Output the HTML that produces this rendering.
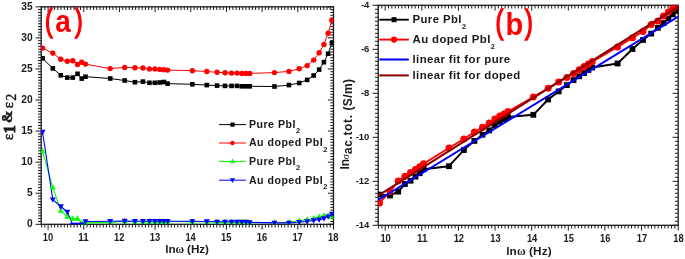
<!DOCTYPE html>
<html><head><meta charset="utf-8"><style>
html,body{margin:0;padding:0;background:#fff;width:685px;height:259px;overflow:hidden;}
svg{display:block;will-change:transform;}
</style></head><body>
<svg width="685" height="259" viewBox="0 0 685 259">
<rect width="685" height="259" fill="#fff"/>
<path d="M41.61 224.30v3.2M41.61 6.80v3.2M44.86 224.30v3.2M44.86 6.80v3.2M48.10 224.30v5.3M48.10 6.80v5.3M51.34 224.30v3.2M51.34 6.80v3.2M54.59 224.30v3.2M54.59 6.80v3.2M57.83 224.30v3.2M57.83 6.80v3.2M61.07 224.30v3.2M61.07 6.80v3.2M64.31 224.30v3.2M64.31 6.80v3.2M67.56 224.30v3.2M67.56 6.80v3.2M70.80 224.30v3.2M70.80 6.80v3.2M74.04 224.30v3.2M74.04 6.80v3.2M77.28 224.30v3.2M77.28 6.80v3.2M80.53 224.30v3.2M80.53 6.80v3.2M83.77 224.30v5.3M83.77 6.80v5.3M87.01 224.30v3.2M87.01 6.80v3.2M90.26 224.30v3.2M90.26 6.80v3.2M93.50 224.30v3.2M93.50 6.80v3.2M96.74 224.30v3.2M96.74 6.80v3.2M99.98 224.30v3.2M99.98 6.80v3.2M103.23 224.30v3.2M103.23 6.80v3.2M106.47 224.30v3.2M106.47 6.80v3.2M109.71 224.30v3.2M109.71 6.80v3.2M112.95 224.30v3.2M112.95 6.80v3.2M116.20 224.30v3.2M116.20 6.80v3.2M119.44 224.30v5.3M119.44 6.80v5.3M122.68 224.30v3.2M122.68 6.80v3.2M125.93 224.30v3.2M125.93 6.80v3.2M129.17 224.30v3.2M129.17 6.80v3.2M132.41 224.30v3.2M132.41 6.80v3.2M135.65 224.30v3.2M135.65 6.80v3.2M138.90 224.30v3.2M138.90 6.80v3.2M142.14 224.30v3.2M142.14 6.80v3.2M145.38 224.30v3.2M145.38 6.80v3.2M148.62 224.30v3.2M148.62 6.80v3.2M151.87 224.30v3.2M151.87 6.80v3.2M155.11 224.30v5.3M155.11 6.80v5.3M158.35 224.30v3.2M158.35 6.80v3.2M161.60 224.30v3.2M161.60 6.80v3.2M164.84 224.30v3.2M164.84 6.80v3.2M168.08 224.30v3.2M168.08 6.80v3.2M171.32 224.30v3.2M171.32 6.80v3.2M174.57 224.30v3.2M174.57 6.80v3.2M177.81 224.30v3.2M177.81 6.80v3.2M181.05 224.30v3.2M181.05 6.80v3.2M184.29 224.30v3.2M184.29 6.80v3.2M187.54 224.30v3.2M187.54 6.80v3.2M190.78 224.30v5.3M190.78 6.80v5.3M194.02 224.30v3.2M194.02 6.80v3.2M197.27 224.30v3.2M197.27 6.80v3.2M200.51 224.30v3.2M200.51 6.80v3.2M203.75 224.30v3.2M203.75 6.80v3.2M206.99 224.30v3.2M206.99 6.80v3.2M210.24 224.30v3.2M210.24 6.80v3.2M213.48 224.30v3.2M213.48 6.80v3.2M216.72 224.30v3.2M216.72 6.80v3.2M219.96 224.30v3.2M219.96 6.80v3.2M223.21 224.30v3.2M223.21 6.80v3.2M226.45 224.30v5.3M226.45 6.80v5.3M229.69 224.30v3.2M229.69 6.80v3.2M232.94 224.30v3.2M232.94 6.80v3.2M236.18 224.30v3.2M236.18 6.80v3.2M239.42 224.30v3.2M239.42 6.80v3.2M242.66 224.30v3.2M242.66 6.80v3.2M245.91 224.30v3.2M245.91 6.80v3.2M249.15 224.30v3.2M249.15 6.80v3.2M252.39 224.30v3.2M252.39 6.80v3.2M255.63 224.30v3.2M255.63 6.80v3.2M258.88 224.30v3.2M258.88 6.80v3.2M262.12 224.30v5.3M262.12 6.80v5.3M265.36 224.30v3.2M265.36 6.80v3.2M268.61 224.30v3.2M268.61 6.80v3.2M271.85 224.30v3.2M271.85 6.80v3.2M275.09 224.30v3.2M275.09 6.80v3.2M278.33 224.30v3.2M278.33 6.80v3.2M281.58 224.30v3.2M281.58 6.80v3.2M284.82 224.30v3.2M284.82 6.80v3.2M288.06 224.30v3.2M288.06 6.80v3.2M291.30 224.30v3.2M291.30 6.80v3.2M294.55 224.30v3.2M294.55 6.80v3.2M297.79 224.30v5.3M297.79 6.80v5.3M301.03 224.30v3.2M301.03 6.80v3.2M304.28 224.30v3.2M304.28 6.80v3.2M307.52 224.30v3.2M307.52 6.80v3.2M310.76 224.30v3.2M310.76 6.80v3.2M314.00 224.30v3.2M314.00 6.80v3.2M317.25 224.30v3.2M317.25 6.80v3.2M320.49 224.30v3.2M320.49 6.80v3.2M323.73 224.30v3.2M323.73 6.80v3.2M326.97 224.30v3.2M326.97 6.80v3.2M330.22 224.30v3.2M330.22 6.80v3.2M333.46 224.30v5.3M333.46 6.80v5.3" stroke="#1a1a1a" stroke-width="1" fill="none"/>
<path d="M41.20 224.30h-5.6M333.50 224.30h-5.6M41.20 193.23h-5.6M333.50 193.23h-5.6M41.20 162.16h-5.6M333.50 162.16h-5.6M41.20 131.09h-5.6M333.50 131.09h-5.6M41.20 100.02h-5.6M333.50 100.02h-5.6M41.20 68.95h-5.6M333.50 68.95h-5.6M41.20 37.88h-5.6M333.50 37.88h-5.6M41.20 6.81h-5.6M333.50 6.81h-5.6M41.20 221.48h-3.2M333.50 221.48h-3.2M41.20 218.65h-3.2M333.50 218.65h-3.2M41.20 215.83h-3.2M333.50 215.83h-3.2M41.20 213.00h-3.2M333.50 213.00h-3.2M41.20 210.18h-3.2M333.50 210.18h-3.2M41.20 207.35h-3.2M333.50 207.35h-3.2M41.20 204.53h-3.2M333.50 204.53h-3.2M41.20 201.70h-3.2M333.50 201.70h-3.2M41.20 198.88h-3.2M333.50 198.88h-3.2M41.20 196.05h-3.2M333.50 196.05h-3.2M41.20 190.41h-3.2M333.50 190.41h-3.2M41.20 187.58h-3.2M333.50 187.58h-3.2M41.20 184.76h-3.2M333.50 184.76h-3.2M41.20 181.93h-3.2M333.50 181.93h-3.2M41.20 179.11h-3.2M333.50 179.11h-3.2M41.20 176.28h-3.2M333.50 176.28h-3.2M41.20 173.46h-3.2M333.50 173.46h-3.2M41.20 170.63h-3.2M333.50 170.63h-3.2M41.20 167.81h-3.2M333.50 167.81h-3.2M41.20 164.98h-3.2M333.50 164.98h-3.2M41.20 159.34h-3.2M333.50 159.34h-3.2M41.20 156.51h-3.2M333.50 156.51h-3.2M41.20 153.69h-3.2M333.50 153.69h-3.2M41.20 150.86h-3.2M333.50 150.86h-3.2M41.20 148.04h-3.2M333.50 148.04h-3.2M41.20 145.21h-3.2M333.50 145.21h-3.2M41.20 142.39h-3.2M333.50 142.39h-3.2M41.20 139.56h-3.2M333.50 139.56h-3.2M41.20 136.74h-3.2M333.50 136.74h-3.2M41.20 133.91h-3.2M333.50 133.91h-3.2M41.20 128.27h-3.2M333.50 128.27h-3.2M41.20 125.44h-3.2M333.50 125.44h-3.2M41.20 122.62h-3.2M333.50 122.62h-3.2M41.20 119.79h-3.2M333.50 119.79h-3.2M41.20 116.97h-3.2M333.50 116.97h-3.2M41.20 114.14h-3.2M333.50 114.14h-3.2M41.20 111.32h-3.2M333.50 111.32h-3.2M41.20 108.49h-3.2M333.50 108.49h-3.2M41.20 105.67h-3.2M333.50 105.67h-3.2M41.20 102.84h-3.2M333.50 102.84h-3.2M41.20 97.20h-3.2M333.50 97.20h-3.2M41.20 94.37h-3.2M333.50 94.37h-3.2M41.20 91.55h-3.2M333.50 91.55h-3.2M41.20 88.72h-3.2M333.50 88.72h-3.2M41.20 85.90h-3.2M333.50 85.90h-3.2M41.20 83.07h-3.2M333.50 83.07h-3.2M41.20 80.25h-3.2M333.50 80.25h-3.2M41.20 77.42h-3.2M333.50 77.42h-3.2M41.20 74.60h-3.2M333.50 74.60h-3.2M41.20 71.77h-3.2M333.50 71.77h-3.2M41.20 66.13h-3.2M333.50 66.13h-3.2M41.20 63.30h-3.2M333.50 63.30h-3.2M41.20 60.48h-3.2M333.50 60.48h-3.2M41.20 57.65h-3.2M333.50 57.65h-3.2M41.20 54.83h-3.2M333.50 54.83h-3.2M41.20 52.00h-3.2M333.50 52.00h-3.2M41.20 49.18h-3.2M333.50 49.18h-3.2M41.20 46.35h-3.2M333.50 46.35h-3.2M41.20 43.53h-3.2M333.50 43.53h-3.2M41.20 40.70h-3.2M333.50 40.70h-3.2M41.20 35.06h-3.2M333.50 35.06h-3.2M41.20 32.23h-3.2M333.50 32.23h-3.2M41.20 29.41h-3.2M333.50 29.41h-3.2M41.20 26.58h-3.2M333.50 26.58h-3.2M41.20 23.76h-3.2M333.50 23.76h-3.2M41.20 20.93h-3.2M333.50 20.93h-3.2M41.20 18.11h-3.2M333.50 18.11h-3.2M41.20 15.28h-3.2M333.50 15.28h-3.2M41.20 12.46h-3.2M333.50 12.46h-3.2M41.20 9.63h-3.2M333.50 9.63h-3.2" stroke="#1a1a1a" stroke-width="1" fill="none"/>
<rect x="41.2" y="6.8" width="292.30" height="217.50" fill="none" stroke="#1a1a1a" stroke-width="1.3"/>
<path d="M378.54 225.30v3.2M378.54 5.30v3.2M381.87 225.30v3.2M381.87 5.30v3.2M385.20 225.30v5.3M385.20 5.30v5.3M388.53 225.30v3.2M388.53 5.30v3.2M391.86 225.30v3.2M391.86 5.30v3.2M395.19 225.30v3.2M395.19 5.30v3.2M398.52 225.30v3.2M398.52 5.30v3.2M401.85 225.30v3.2M401.85 5.30v3.2M405.17 225.30v3.2M405.17 5.30v3.2M408.50 225.30v3.2M408.50 5.30v3.2M411.83 225.30v3.2M411.83 5.30v3.2M415.16 225.30v3.2M415.16 5.30v3.2M418.49 225.30v3.2M418.49 5.30v3.2M421.82 225.30v5.3M421.82 5.30v5.3M425.15 225.30v3.2M425.15 5.30v3.2M428.48 225.30v3.2M428.48 5.30v3.2M431.81 225.30v3.2M431.81 5.30v3.2M435.14 225.30v3.2M435.14 5.30v3.2M438.47 225.30v3.2M438.47 5.30v3.2M441.79 225.30v3.2M441.79 5.30v3.2M445.12 225.30v3.2M445.12 5.30v3.2M448.45 225.30v3.2M448.45 5.30v3.2M451.78 225.30v3.2M451.78 5.30v3.2M455.11 225.30v3.2M455.11 5.30v3.2M458.44 225.30v5.3M458.44 5.30v5.3M461.77 225.30v3.2M461.77 5.30v3.2M465.10 225.30v3.2M465.10 5.30v3.2M468.43 225.30v3.2M468.43 5.30v3.2M471.76 225.30v3.2M471.76 5.30v3.2M475.09 225.30v3.2M475.09 5.30v3.2M478.41 225.30v3.2M478.41 5.30v3.2M481.74 225.30v3.2M481.74 5.30v3.2M485.07 225.30v3.2M485.07 5.30v3.2M488.40 225.30v3.2M488.40 5.30v3.2M491.73 225.30v3.2M491.73 5.30v3.2M495.06 225.30v5.3M495.06 5.30v5.3M498.39 225.30v3.2M498.39 5.30v3.2M501.72 225.30v3.2M501.72 5.30v3.2M505.05 225.30v3.2M505.05 5.30v3.2M508.38 225.30v3.2M508.38 5.30v3.2M511.71 225.30v3.2M511.71 5.30v3.2M515.03 225.30v3.2M515.03 5.30v3.2M518.36 225.30v3.2M518.36 5.30v3.2M521.69 225.30v3.2M521.69 5.30v3.2M525.02 225.30v3.2M525.02 5.30v3.2M528.35 225.30v3.2M528.35 5.30v3.2M531.68 225.30v5.3M531.68 5.30v5.3M535.01 225.30v3.2M535.01 5.30v3.2M538.34 225.30v3.2M538.34 5.30v3.2M541.67 225.30v3.2M541.67 5.30v3.2M545.00 225.30v3.2M545.00 5.30v3.2M548.33 225.30v3.2M548.33 5.30v3.2M551.65 225.30v3.2M551.65 5.30v3.2M554.98 225.30v3.2M554.98 5.30v3.2M558.31 225.30v3.2M558.31 5.30v3.2M561.64 225.30v3.2M561.64 5.30v3.2M564.97 225.30v3.2M564.97 5.30v3.2M568.30 225.30v5.3M568.30 5.30v5.3M571.63 225.30v3.2M571.63 5.30v3.2M574.96 225.30v3.2M574.96 5.30v3.2M578.29 225.30v3.2M578.29 5.30v3.2M581.62 225.30v3.2M581.62 5.30v3.2M584.95 225.30v3.2M584.95 5.30v3.2M588.27 225.30v3.2M588.27 5.30v3.2M591.60 225.30v3.2M591.60 5.30v3.2M594.93 225.30v3.2M594.93 5.30v3.2M598.26 225.30v3.2M598.26 5.30v3.2M601.59 225.30v3.2M601.59 5.30v3.2M604.92 225.30v5.3M604.92 5.30v5.3M608.25 225.30v3.2M608.25 5.30v3.2M611.58 225.30v3.2M611.58 5.30v3.2M614.91 225.30v3.2M614.91 5.30v3.2M618.24 225.30v3.2M618.24 5.30v3.2M621.57 225.30v3.2M621.57 5.30v3.2M624.89 225.30v3.2M624.89 5.30v3.2M628.22 225.30v3.2M628.22 5.30v3.2M631.55 225.30v3.2M631.55 5.30v3.2M634.88 225.30v3.2M634.88 5.30v3.2M638.21 225.30v3.2M638.21 5.30v3.2M641.54 225.30v5.3M641.54 5.30v5.3M644.87 225.30v3.2M644.87 5.30v3.2M648.20 225.30v3.2M648.20 5.30v3.2M651.53 225.30v3.2M651.53 5.30v3.2M654.86 225.30v3.2M654.86 5.30v3.2M658.19 225.30v3.2M658.19 5.30v3.2M661.51 225.30v3.2M661.51 5.30v3.2M664.84 225.30v3.2M664.84 5.30v3.2M668.17 225.30v3.2M668.17 5.30v3.2M671.50 225.30v3.2M671.50 5.30v3.2M674.83 225.30v3.2M674.83 5.30v3.2M678.16 225.30v5.3M678.16 5.30v5.3" stroke="#1a1a1a" stroke-width="1" fill="none"/>
<path d="M378.20 5.30h-5.6M678.20 5.30h-5.6M378.20 49.30h-5.6M678.20 49.30h-5.6M378.20 93.30h-5.6M678.20 93.30h-5.6M378.20 137.30h-5.6M678.20 137.30h-5.6M378.20 181.30h-5.6M678.20 181.30h-5.6M378.20 225.30h-5.6M678.20 225.30h-5.6M378.20 221.30h-3.2M678.20 221.30h-3.2M378.20 217.30h-3.2M678.20 217.30h-3.2M378.20 213.30h-3.2M678.20 213.30h-3.2M378.20 209.30h-3.2M678.20 209.30h-3.2M378.20 205.30h-3.2M678.20 205.30h-3.2M378.20 201.30h-3.2M678.20 201.30h-3.2M378.20 197.30h-3.2M678.20 197.30h-3.2M378.20 193.30h-3.2M678.20 193.30h-3.2M378.20 189.30h-3.2M678.20 189.30h-3.2M378.20 185.30h-3.2M678.20 185.30h-3.2M378.20 177.30h-3.2M678.20 177.30h-3.2M378.20 173.30h-3.2M678.20 173.30h-3.2M378.20 169.30h-3.2M678.20 169.30h-3.2M378.20 165.30h-3.2M678.20 165.30h-3.2M378.20 161.30h-3.2M678.20 161.30h-3.2M378.20 157.30h-3.2M678.20 157.30h-3.2M378.20 153.30h-3.2M678.20 153.30h-3.2M378.20 149.30h-3.2M678.20 149.30h-3.2M378.20 145.30h-3.2M678.20 145.30h-3.2M378.20 141.30h-3.2M678.20 141.30h-3.2M378.20 133.30h-3.2M678.20 133.30h-3.2M378.20 129.30h-3.2M678.20 129.30h-3.2M378.20 125.30h-3.2M678.20 125.30h-3.2M378.20 121.30h-3.2M678.20 121.30h-3.2M378.20 117.30h-3.2M678.20 117.30h-3.2M378.20 113.30h-3.2M678.20 113.30h-3.2M378.20 109.30h-3.2M678.20 109.30h-3.2M378.20 105.30h-3.2M678.20 105.30h-3.2M378.20 101.30h-3.2M678.20 101.30h-3.2M378.20 97.30h-3.2M678.20 97.30h-3.2M378.20 89.30h-3.2M678.20 89.30h-3.2M378.20 85.30h-3.2M678.20 85.30h-3.2M378.20 81.30h-3.2M678.20 81.30h-3.2M378.20 77.30h-3.2M678.20 77.30h-3.2M378.20 73.30h-3.2M678.20 73.30h-3.2M378.20 69.30h-3.2M678.20 69.30h-3.2M378.20 65.30h-3.2M678.20 65.30h-3.2M378.20 61.30h-3.2M678.20 61.30h-3.2M378.20 57.30h-3.2M678.20 57.30h-3.2M378.20 53.30h-3.2M678.20 53.30h-3.2M378.20 45.30h-3.2M678.20 45.30h-3.2M378.20 41.30h-3.2M678.20 41.30h-3.2M378.20 37.30h-3.2M678.20 37.30h-3.2M378.20 33.30h-3.2M678.20 33.30h-3.2M378.20 29.30h-3.2M678.20 29.30h-3.2M378.20 25.30h-3.2M678.20 25.30h-3.2M378.20 21.30h-3.2M678.20 21.30h-3.2M378.20 17.30h-3.2M678.20 17.30h-3.2M378.20 13.30h-3.2M678.20 13.30h-3.2M378.20 9.30h-3.2M678.20 9.30h-3.2" stroke="#1a1a1a" stroke-width="1" fill="none"/>
<rect x="378.2" y="5.3" width="300.00" height="220.00" fill="none" stroke="#1a1a1a" stroke-width="1.3"/>
<text x="47.90" y="240.6" text-anchor="middle" font-family="Liberation Sans, sans-serif" font-weight="bold" font-size="10.2" fill="#1a1a1a" textLength="10.4" lengthAdjust="spacingAndGlyphs">10</text>
<text x="385.60" y="241.7" text-anchor="middle" font-family="Liberation Sans, sans-serif" font-weight="bold" font-size="10.0" fill="#1a1a1a" textLength="10.4" lengthAdjust="spacingAndGlyphs">10</text>
<text x="83.57" y="240.6" text-anchor="middle" font-family="Liberation Sans, sans-serif" font-weight="bold" font-size="10.2" fill="#1a1a1a" textLength="10.4" lengthAdjust="spacingAndGlyphs">11</text>
<text x="422.22" y="241.7" text-anchor="middle" font-family="Liberation Sans, sans-serif" font-weight="bold" font-size="10.0" fill="#1a1a1a" textLength="10.4" lengthAdjust="spacingAndGlyphs">11</text>
<text x="119.24" y="240.6" text-anchor="middle" font-family="Liberation Sans, sans-serif" font-weight="bold" font-size="10.2" fill="#1a1a1a" textLength="10.4" lengthAdjust="spacingAndGlyphs">12</text>
<text x="458.84" y="241.7" text-anchor="middle" font-family="Liberation Sans, sans-serif" font-weight="bold" font-size="10.0" fill="#1a1a1a" textLength="10.4" lengthAdjust="spacingAndGlyphs">12</text>
<text x="154.91" y="240.6" text-anchor="middle" font-family="Liberation Sans, sans-serif" font-weight="bold" font-size="10.2" fill="#1a1a1a" textLength="10.4" lengthAdjust="spacingAndGlyphs">13</text>
<text x="495.46" y="241.7" text-anchor="middle" font-family="Liberation Sans, sans-serif" font-weight="bold" font-size="10.0" fill="#1a1a1a" textLength="10.4" lengthAdjust="spacingAndGlyphs">13</text>
<text x="190.58" y="240.6" text-anchor="middle" font-family="Liberation Sans, sans-serif" font-weight="bold" font-size="10.2" fill="#1a1a1a" textLength="10.4" lengthAdjust="spacingAndGlyphs">14</text>
<text x="532.08" y="241.7" text-anchor="middle" font-family="Liberation Sans, sans-serif" font-weight="bold" font-size="10.0" fill="#1a1a1a" textLength="10.4" lengthAdjust="spacingAndGlyphs">14</text>
<text x="226.25" y="240.6" text-anchor="middle" font-family="Liberation Sans, sans-serif" font-weight="bold" font-size="10.2" fill="#1a1a1a" textLength="10.4" lengthAdjust="spacingAndGlyphs">15</text>
<text x="568.70" y="241.7" text-anchor="middle" font-family="Liberation Sans, sans-serif" font-weight="bold" font-size="10.0" fill="#1a1a1a" textLength="10.4" lengthAdjust="spacingAndGlyphs">15</text>
<text x="261.92" y="240.6" text-anchor="middle" font-family="Liberation Sans, sans-serif" font-weight="bold" font-size="10.2" fill="#1a1a1a" textLength="10.4" lengthAdjust="spacingAndGlyphs">16</text>
<text x="605.32" y="241.7" text-anchor="middle" font-family="Liberation Sans, sans-serif" font-weight="bold" font-size="10.0" fill="#1a1a1a" textLength="10.4" lengthAdjust="spacingAndGlyphs">16</text>
<text x="297.59" y="240.6" text-anchor="middle" font-family="Liberation Sans, sans-serif" font-weight="bold" font-size="10.2" fill="#1a1a1a" textLength="10.4" lengthAdjust="spacingAndGlyphs">17</text>
<text x="641.94" y="241.7" text-anchor="middle" font-family="Liberation Sans, sans-serif" font-weight="bold" font-size="10.0" fill="#1a1a1a" textLength="10.4" lengthAdjust="spacingAndGlyphs">17</text>
<text x="333.26" y="240.6" text-anchor="middle" font-family="Liberation Sans, sans-serif" font-weight="bold" font-size="10.2" fill="#1a1a1a" textLength="10.4" lengthAdjust="spacingAndGlyphs">18</text>
<text x="678.56" y="241.7" text-anchor="middle" font-family="Liberation Sans, sans-serif" font-weight="bold" font-size="10.0" fill="#1a1a1a" textLength="10.4" lengthAdjust="spacingAndGlyphs">18</text>
<text x="32.6" y="227.30" text-anchor="end" font-family="Liberation Sans, sans-serif" font-weight="bold" font-size="10.2" fill="#1a1a1a">0</text>
<text x="32.6" y="196.23" text-anchor="end" font-family="Liberation Sans, sans-serif" font-weight="bold" font-size="10.2" fill="#1a1a1a">5</text>
<text x="32.6" y="165.16" text-anchor="end" font-family="Liberation Sans, sans-serif" font-weight="bold" font-size="10.2" fill="#1a1a1a">10</text>
<text x="32.6" y="134.09" text-anchor="end" font-family="Liberation Sans, sans-serif" font-weight="bold" font-size="10.2" fill="#1a1a1a">15</text>
<text x="32.6" y="103.02" text-anchor="end" font-family="Liberation Sans, sans-serif" font-weight="bold" font-size="10.2" fill="#1a1a1a">20</text>
<text x="32.6" y="71.95" text-anchor="end" font-family="Liberation Sans, sans-serif" font-weight="bold" font-size="10.2" fill="#1a1a1a">25</text>
<text x="32.6" y="40.88" text-anchor="end" font-family="Liberation Sans, sans-serif" font-weight="bold" font-size="10.2" fill="#1a1a1a">30</text>
<text x="32.6" y="9.81" text-anchor="end" font-family="Liberation Sans, sans-serif" font-weight="bold" font-size="10.2" fill="#1a1a1a">35</text>
<text x="369.4" y="8.20" text-anchor="end" font-family="Liberation Sans, sans-serif" font-weight="bold" font-size="9.5" fill="#1a1a1a">-4</text>
<text x="369.4" y="52.20" text-anchor="end" font-family="Liberation Sans, sans-serif" font-weight="bold" font-size="9.5" fill="#1a1a1a">-6</text>
<text x="369.4" y="96.20" text-anchor="end" font-family="Liberation Sans, sans-serif" font-weight="bold" font-size="9.5" fill="#1a1a1a">-8</text>
<text x="369.4" y="140.20" text-anchor="end" font-family="Liberation Sans, sans-serif" font-weight="bold" font-size="9.5" fill="#1a1a1a">-10</text>
<text x="369.4" y="184.20" text-anchor="end" font-family="Liberation Sans, sans-serif" font-weight="bold" font-size="9.5" fill="#1a1a1a">-12</text>
<text x="369.4" y="228.20" text-anchor="end" font-family="Liberation Sans, sans-serif" font-weight="bold" font-size="9.5" fill="#1a1a1a">-14</text>
<text x="165.3" y="253.3" font-family="Liberation Sans, sans-serif" font-weight="bold" font-size="11.7" fill="#1a1a1a" textLength="43.6" lengthAdjust="spacing">ln<tspan font-family="Liberation Serif, serif" font-weight="bold">ω</tspan> (Hz)</text>
<text x="506.2" y="254.8" font-family="Liberation Sans, sans-serif" font-weight="bold" font-size="11.8" fill="#1a1a1a" textLength="45.5" lengthAdjust="spacing">ln<tspan font-family="Liberation Serif, serif" font-weight="bold">ω</tspan> (Hz)</text>
<g transform="rotate(-90)" fill="#1a1a1a">
<text x="-140.0" y="12.6" font-family="Liberation Serif, serif" font-size="14.5" stroke="#1a1a1a" stroke-width="0.5">ε</text>
<text x="-133.2" y="15.3" font-family="Liberation Serif, serif" font-weight="bold" font-size="16" stroke="#1a1a1a" stroke-width="0.9">1</text>
<text x="-123.0" y="11.9" font-family="Liberation Serif, serif" font-weight="bold" font-size="15" stroke="#1a1a1a" stroke-width="0.5">&amp;</text>
<text x="-108.2" y="13.0" font-family="Liberation Serif, serif" font-size="14.5" stroke="#1a1a1a" stroke-width="0.5">ε</text>
<text x="-100.8" y="15.5" font-family="Liberation Serif, serif" font-size="14" stroke="#1a1a1a" stroke-width="0.4">2</text>
</g>
<g transform="rotate(-90)" fill="#1a1a1a">
<text x="-169.6" y="349.2" font-family="Liberation Sans, sans-serif" font-weight="bold" font-size="12">ln</text>
<text x="-159.2" y="349.2" font-family="Liberation Serif, serif" font-size="9.5">σ</text>
<text x="-154.0" y="352.4" font-family="Liberation Sans, sans-serif" font-weight="bold" font-size="12" textLength="39" lengthAdjust="spacing">ac.tot.</text>
<text x="-110.6" y="352.4" font-family="Liberation Sans, sans-serif" font-weight="bold" font-size="12" textLength="31.6" lengthAdjust="spacing">(S/m)</text>
</g>
<g font-family="Liberation Sans, sans-serif" fill="#ff0000">
<text transform="translate(44.9,31) scale(0.72,1)" font-size="32" stroke="#ff0000" stroke-width="1.5">(</text>
<text transform="translate(55.2,31.8) scale(0.9,1)" font-size="31" font-weight="bold">a</text>
<text transform="translate(75.0,31) scale(0.72,1)" font-size="32" stroke="#ff0000" stroke-width="1.5">)</text>
<text transform="translate(495.5,33.2) scale(0.72,1)" font-size="32.5" stroke="#ff0000" stroke-width="1.5">(</text>
<text transform="translate(505.6,35.3) scale(0.92,1)" font-size="31.5" font-weight="bold">b</text>
<text transform="translate(525.0,33.2) scale(0.72,1)" font-size="32.5" stroke="#ff0000" stroke-width="1.5">)</text>
</g>
<g clip-path="url(#cl)">
<polyline points="42.54,58.30 52.81,68.40 60.77,75.30 67.27,77.60 72.77,77.60 77.53,73.80 81.73,78.60 85.49,76.70 110.21,78.50 124.68,80.50 134.94,82.20 142.90,81.60 149.40,82.80 154.90,82.80 159.66,82.50 163.86,82.00 167.62,83.60 192.35,84.30 206.81,85.10 217.07,85.60 225.03,85.90 231.54,85.90 237.03,85.90 241.80,86.30 246.00,86.30 249.76,86.30 274.48,86.50 288.94,85.10 299.21,83.00 307.16,79.90 313.67,75.50 319.17,69.60 323.93,62.20 328.13,53.70 331.89,43.00" fill="none" stroke="#000" stroke-width="1.0" stroke-linejoin="round"/>
<polyline points="42.54,48.10 52.81,53.10 60.77,59.30 67.27,61.20 72.77,60.70 77.53,64.50 81.73,62.20 85.49,64.10 110.21,68.60 124.68,67.40 134.94,67.80 142.90,68.00 149.40,68.90 154.90,68.90 159.66,69.40 163.86,69.70 167.62,70.10 192.35,70.70 206.81,71.50 217.07,72.30 225.03,72.70 231.54,73.10 237.03,73.10 241.80,73.40 246.00,73.40 249.76,73.40 274.48,72.60 288.94,71.40 299.21,68.80 307.16,65.60 313.67,60.10 319.17,52.70 323.93,44.40 328.13,33.30 331.89,20.30" fill="none" stroke="#ff0000" stroke-width="1.0" stroke-linejoin="round"/>
<polyline points="42.54,151.10 52.81,187.40 60.77,210.70 67.27,216.50 72.77,218.50 77.53,218.50 81.73,222.80 85.49,222.90 110.21,222.40 124.68,221.30 134.94,221.50 142.90,221.50 149.40,221.50 154.90,221.50 159.66,221.50 163.86,221.50 167.62,221.50 192.35,221.60 206.81,221.80 217.07,222.10 225.03,222.10 231.54,222.10 237.03,222.30 241.80,222.30 246.00,222.30 249.76,222.60 274.48,222.50 288.94,222.50 299.21,220.80 307.16,219.60 313.67,218.30 319.17,216.80 323.93,215.60 328.13,215.50 331.89,216.50" fill="none" stroke="#00ff00" stroke-width="1.1" stroke-linejoin="round"/>
<polyline points="42.54,132.00 52.81,199.60 60.77,206.50 67.27,212.00 72.77,224.80 77.53,224.80 81.73,224.60 85.49,221.50 110.21,221.20 124.68,221.00 134.94,221.20 142.90,221.20 149.40,221.20 154.90,221.20 159.66,221.20 163.86,221.20 167.62,221.20 192.35,221.30 206.81,221.50 217.07,221.80 225.03,221.80 231.54,221.80 237.03,222.00 241.80,222.00 246.00,222.00 249.76,222.30 274.48,222.90 288.94,222.90 299.21,222.20 307.16,221.40 313.67,220.40 319.17,219.60 323.93,218.40 328.13,216.60 331.89,214.00" fill="none" stroke="#0000ff" stroke-width="1.1" stroke-linejoin="round"/>
<rect x="40.24" y="56.00" width="4.6" height="4.6" fill="#000"/>
<rect x="50.51" y="66.10" width="4.6" height="4.6" fill="#000"/>
<rect x="58.47" y="73.00" width="4.6" height="4.6" fill="#000"/>
<rect x="64.97" y="75.30" width="4.6" height="4.6" fill="#000"/>
<rect x="70.47" y="75.30" width="4.6" height="4.6" fill="#000"/>
<rect x="75.23" y="71.50" width="4.6" height="4.6" fill="#000"/>
<rect x="79.43" y="76.30" width="4.6" height="4.6" fill="#000"/>
<rect x="83.19" y="74.40" width="4.6" height="4.6" fill="#000"/>
<rect x="107.91" y="76.20" width="4.6" height="4.6" fill="#000"/>
<rect x="122.38" y="78.20" width="4.6" height="4.6" fill="#000"/>
<rect x="132.64" y="79.90" width="4.6" height="4.6" fill="#000"/>
<rect x="140.60" y="79.30" width="4.6" height="4.6" fill="#000"/>
<rect x="147.10" y="80.50" width="4.6" height="4.6" fill="#000"/>
<rect x="152.60" y="80.50" width="4.6" height="4.6" fill="#000"/>
<rect x="157.36" y="80.20" width="4.6" height="4.6" fill="#000"/>
<rect x="161.56" y="79.70" width="4.6" height="4.6" fill="#000"/>
<rect x="165.32" y="81.30" width="4.6" height="4.6" fill="#000"/>
<rect x="190.05" y="82.00" width="4.6" height="4.6" fill="#000"/>
<rect x="204.51" y="82.80" width="4.6" height="4.6" fill="#000"/>
<rect x="214.77" y="83.30" width="4.6" height="4.6" fill="#000"/>
<rect x="222.73" y="83.60" width="4.6" height="4.6" fill="#000"/>
<rect x="229.24" y="83.60" width="4.6" height="4.6" fill="#000"/>
<rect x="234.73" y="83.60" width="4.6" height="4.6" fill="#000"/>
<rect x="239.50" y="84.00" width="4.6" height="4.6" fill="#000"/>
<rect x="243.70" y="84.00" width="4.6" height="4.6" fill="#000"/>
<rect x="247.46" y="84.00" width="4.6" height="4.6" fill="#000"/>
<rect x="272.18" y="84.20" width="4.6" height="4.6" fill="#000"/>
<rect x="286.64" y="82.80" width="4.6" height="4.6" fill="#000"/>
<rect x="296.91" y="80.70" width="4.6" height="4.6" fill="#000"/>
<rect x="304.86" y="77.60" width="4.6" height="4.6" fill="#000"/>
<rect x="311.37" y="73.20" width="4.6" height="4.6" fill="#000"/>
<rect x="316.87" y="67.30" width="4.6" height="4.6" fill="#000"/>
<rect x="321.63" y="59.90" width="4.6" height="4.6" fill="#000"/>
<rect x="325.83" y="51.40" width="4.6" height="4.6" fill="#000"/>
<rect x="329.59" y="40.70" width="4.6" height="4.6" fill="#000"/>
<circle cx="42.54" cy="48.10" r="2.7" fill="#ff0000"/>
<circle cx="52.81" cy="53.10" r="2.7" fill="#ff0000"/>
<circle cx="60.77" cy="59.30" r="2.7" fill="#ff0000"/>
<circle cx="67.27" cy="61.20" r="2.7" fill="#ff0000"/>
<circle cx="72.77" cy="60.70" r="2.7" fill="#ff0000"/>
<circle cx="77.53" cy="64.50" r="2.7" fill="#ff0000"/>
<circle cx="81.73" cy="62.20" r="2.7" fill="#ff0000"/>
<circle cx="85.49" cy="64.10" r="2.7" fill="#ff0000"/>
<circle cx="110.21" cy="68.60" r="2.7" fill="#ff0000"/>
<circle cx="124.68" cy="67.40" r="2.7" fill="#ff0000"/>
<circle cx="134.94" cy="67.80" r="2.7" fill="#ff0000"/>
<circle cx="142.90" cy="68.00" r="2.7" fill="#ff0000"/>
<circle cx="149.40" cy="68.90" r="2.7" fill="#ff0000"/>
<circle cx="154.90" cy="68.90" r="2.7" fill="#ff0000"/>
<circle cx="159.66" cy="69.40" r="2.7" fill="#ff0000"/>
<circle cx="163.86" cy="69.70" r="2.7" fill="#ff0000"/>
<circle cx="167.62" cy="70.10" r="2.7" fill="#ff0000"/>
<circle cx="192.35" cy="70.70" r="2.7" fill="#ff0000"/>
<circle cx="206.81" cy="71.50" r="2.7" fill="#ff0000"/>
<circle cx="217.07" cy="72.30" r="2.7" fill="#ff0000"/>
<circle cx="225.03" cy="72.70" r="2.7" fill="#ff0000"/>
<circle cx="231.54" cy="73.10" r="2.7" fill="#ff0000"/>
<circle cx="237.03" cy="73.10" r="2.7" fill="#ff0000"/>
<circle cx="241.80" cy="73.40" r="2.7" fill="#ff0000"/>
<circle cx="246.00" cy="73.40" r="2.7" fill="#ff0000"/>
<circle cx="249.76" cy="73.40" r="2.7" fill="#ff0000"/>
<circle cx="274.48" cy="72.60" r="2.7" fill="#ff0000"/>
<circle cx="288.94" cy="71.40" r="2.7" fill="#ff0000"/>
<circle cx="299.21" cy="68.80" r="2.7" fill="#ff0000"/>
<circle cx="307.16" cy="65.60" r="2.7" fill="#ff0000"/>
<circle cx="313.67" cy="60.10" r="2.7" fill="#ff0000"/>
<circle cx="319.17" cy="52.70" r="2.7" fill="#ff0000"/>
<circle cx="323.93" cy="44.40" r="2.7" fill="#ff0000"/>
<circle cx="328.13" cy="33.30" r="2.7" fill="#ff0000"/>
<circle cx="331.89" cy="20.30" r="2.7" fill="#ff0000"/>
<path d="M42.54 147.86L45.54 153.26L39.54 153.26Z" fill="#00ff00"/>
<path d="M52.81 184.16L55.81 189.56L49.81 189.56Z" fill="#00ff00"/>
<path d="M60.77 207.46L63.77 212.86L57.77 212.86Z" fill="#00ff00"/>
<path d="M67.27 213.26L70.27 218.66L64.27 218.66Z" fill="#00ff00"/>
<path d="M72.77 215.26L75.77 220.66L69.77 220.66Z" fill="#00ff00"/>
<path d="M77.53 215.26L80.53 220.66L74.53 220.66Z" fill="#00ff00"/>
<path d="M81.73 219.56L84.73 224.96L78.73 224.96Z" fill="#00ff00"/>
<path d="M85.49 219.66L88.49 225.06L82.49 225.06Z" fill="#00ff00"/>
<path d="M110.21 219.16L113.21 224.56L107.21 224.56Z" fill="#00ff00"/>
<path d="M124.68 218.06L127.68 223.46L121.68 223.46Z" fill="#00ff00"/>
<path d="M134.94 218.26L137.94 223.66L131.94 223.66Z" fill="#00ff00"/>
<path d="M142.90 218.26L145.90 223.66L139.90 223.66Z" fill="#00ff00"/>
<path d="M149.40 218.26L152.40 223.66L146.40 223.66Z" fill="#00ff00"/>
<path d="M154.90 218.26L157.90 223.66L151.90 223.66Z" fill="#00ff00"/>
<path d="M159.66 218.26L162.66 223.66L156.66 223.66Z" fill="#00ff00"/>
<path d="M163.86 218.26L166.86 223.66L160.86 223.66Z" fill="#00ff00"/>
<path d="M167.62 218.26L170.62 223.66L164.62 223.66Z" fill="#00ff00"/>
<path d="M192.35 218.36L195.35 223.76L189.35 223.76Z" fill="#00ff00"/>
<path d="M206.81 218.56L209.81 223.96L203.81 223.96Z" fill="#00ff00"/>
<path d="M217.07 218.86L220.07 224.26L214.07 224.26Z" fill="#00ff00"/>
<path d="M225.03 218.86L228.03 224.26L222.03 224.26Z" fill="#00ff00"/>
<path d="M231.54 218.86L234.54 224.26L228.54 224.26Z" fill="#00ff00"/>
<path d="M237.03 219.06L240.03 224.46L234.03 224.46Z" fill="#00ff00"/>
<path d="M241.80 219.06L244.80 224.46L238.80 224.46Z" fill="#00ff00"/>
<path d="M246.00 219.06L249.00 224.46L243.00 224.46Z" fill="#00ff00"/>
<path d="M249.76 219.36L252.76 224.76L246.76 224.76Z" fill="#00ff00"/>
<path d="M274.48 219.26L277.48 224.66L271.48 224.66Z" fill="#00ff00"/>
<path d="M288.94 219.26L291.94 224.66L285.94 224.66Z" fill="#00ff00"/>
<path d="M299.21 217.56L302.21 222.96L296.21 222.96Z" fill="#00ff00"/>
<path d="M307.16 216.36L310.16 221.76L304.16 221.76Z" fill="#00ff00"/>
<path d="M313.67 215.06L316.67 220.46L310.67 220.46Z" fill="#00ff00"/>
<path d="M319.17 213.56L322.17 218.96L316.17 218.96Z" fill="#00ff00"/>
<path d="M323.93 212.36L326.93 217.76L320.93 217.76Z" fill="#00ff00"/>
<path d="M328.13 212.26L331.13 217.66L325.13 217.66Z" fill="#00ff00"/>
<path d="M331.89 213.26L334.89 218.66L328.89 218.66Z" fill="#00ff00"/>
<path d="M42.54 135.24L45.54 129.84L39.54 129.84Z" fill="#0000ff"/>
<path d="M52.81 202.84L55.81 197.44L49.81 197.44Z" fill="#0000ff"/>
<path d="M60.77 209.74L63.77 204.34L57.77 204.34Z" fill="#0000ff"/>
<path d="M67.27 215.24L70.27 209.84L64.27 209.84Z" fill="#0000ff"/>
<path d="M72.77 228.04L75.77 222.64L69.77 222.64Z" fill="#0000ff"/>
<path d="M77.53 228.04L80.53 222.64L74.53 222.64Z" fill="#0000ff"/>
<path d="M81.73 227.84L84.73 222.44L78.73 222.44Z" fill="#0000ff"/>
<path d="M85.49 224.74L88.49 219.34L82.49 219.34Z" fill="#0000ff"/>
<path d="M110.21 224.44L113.21 219.04L107.21 219.04Z" fill="#0000ff"/>
<path d="M124.68 224.24L127.68 218.84L121.68 218.84Z" fill="#0000ff"/>
<path d="M134.94 224.44L137.94 219.04L131.94 219.04Z" fill="#0000ff"/>
<path d="M142.90 224.44L145.90 219.04L139.90 219.04Z" fill="#0000ff"/>
<path d="M149.40 224.44L152.40 219.04L146.40 219.04Z" fill="#0000ff"/>
<path d="M154.90 224.44L157.90 219.04L151.90 219.04Z" fill="#0000ff"/>
<path d="M159.66 224.44L162.66 219.04L156.66 219.04Z" fill="#0000ff"/>
<path d="M163.86 224.44L166.86 219.04L160.86 219.04Z" fill="#0000ff"/>
<path d="M167.62 224.44L170.62 219.04L164.62 219.04Z" fill="#0000ff"/>
<path d="M192.35 224.54L195.35 219.14L189.35 219.14Z" fill="#0000ff"/>
<path d="M206.81 224.74L209.81 219.34L203.81 219.34Z" fill="#0000ff"/>
<path d="M217.07 225.04L220.07 219.64L214.07 219.64Z" fill="#0000ff"/>
<path d="M225.03 225.04L228.03 219.64L222.03 219.64Z" fill="#0000ff"/>
<path d="M231.54 225.04L234.54 219.64L228.54 219.64Z" fill="#0000ff"/>
<path d="M237.03 225.24L240.03 219.84L234.03 219.84Z" fill="#0000ff"/>
<path d="M241.80 225.24L244.80 219.84L238.80 219.84Z" fill="#0000ff"/>
<path d="M246.00 225.24L249.00 219.84L243.00 219.84Z" fill="#0000ff"/>
<path d="M249.76 225.54L252.76 220.14L246.76 220.14Z" fill="#0000ff"/>
<path d="M274.48 226.14L277.48 220.74L271.48 220.74Z" fill="#0000ff"/>
<path d="M288.94 226.14L291.94 220.74L285.94 220.74Z" fill="#0000ff"/>
<path d="M299.21 225.44L302.21 220.04L296.21 220.04Z" fill="#0000ff"/>
<path d="M307.16 224.64L310.16 219.24L304.16 219.24Z" fill="#0000ff"/>
<path d="M313.67 223.64L316.67 218.24L310.67 218.24Z" fill="#0000ff"/>
<path d="M319.17 222.84L322.17 217.44L316.17 217.44Z" fill="#0000ff"/>
<path d="M323.93 221.64L326.93 216.24L320.93 216.24Z" fill="#0000ff"/>
<path d="M328.13 219.84L331.13 214.44L325.13 214.44Z" fill="#0000ff"/>
<path d="M331.89 217.24L334.89 211.84L328.89 211.84Z" fill="#0000ff"/>
</g>
<path d="M219 124.6H246" stroke="#000" stroke-width="1"/>
<rect x="230.40" y="122.50" width="4.2" height="4.2" fill="#000"/>
<text x="248.9" y="127.80" font-family="Liberation Sans, sans-serif" font-weight="bold" font-size="10.6" letter-spacing="0.5" fill="#1a1a1a">Pure PbI<tspan font-size="7.5" dy="5.3">2</tspan></text>
<path d="M219 143.0H246" stroke="#ff0000" stroke-width="1"/>
<circle cx="232.50" cy="143.00" r="2.2" fill="#ff0000"/>
<text x="248.9" y="146.20" font-family="Liberation Sans, sans-serif" font-weight="bold" font-size="10.6" letter-spacing="0.5" fill="#1a1a1a">Au doped PbI<tspan font-size="7.5" dy="5.3">2</tspan></text>
<path d="M219 161.4H246" stroke="#00ff00" stroke-width="1"/>
<path d="M232.50 158.59L235.10 163.27L229.90 163.27Z" fill="#00ff00"/>
<text x="248.9" y="164.60" font-family="Liberation Sans, sans-serif" font-weight="bold" font-size="10.6" letter-spacing="0.5" fill="#1a1a1a">Pure PbI<tspan font-size="7.5" dy="5.3">2</tspan></text>
<path d="M219 180.2H246" stroke="#0000ff" stroke-width="1"/>
<path d="M232.50 183.01L235.10 178.33L229.90 178.33Z" fill="#0000ff"/>
<text x="248.9" y="184.00" font-family="Liberation Sans, sans-serif" font-weight="bold" font-size="10.6" letter-spacing="0.5" fill="#1a1a1a">Au doped PbI<tspan font-size="7.5" dy="5.3">2</tspan></text>
<g clip-path="url(#cr)">
<polyline points="379.50,194.60 390.03,195.50 398.20,191.60 404.88,184.00 410.52,180.70 415.41,176.60 419.73,173.20 423.59,169.20 448.97,166.20 463.82,150.10 474.35,140.90 482.52,134.70 489.20,130.40 494.84,125.20 499.73,121.70 504.05,119.10 507.91,117.00 533.29,114.80 548.14,99.50 558.67,91.40 566.84,85.10 573.52,80.10 579.17,76.30 584.06,73.10 588.37,70.00 592.23,67.50 617.61,63.50 632.46,49.00 642.99,40.00 651.16,33.60 657.84,27.80 663.49,23.10 668.38,18.50 672.69,14.40 676.55,10.40" fill="none" stroke="#000" stroke-width="1.9" stroke-linejoin="round"/>
<polyline points="379.50,202.90 390.03,191.60 398.20,181.00 404.88,176.30 410.52,172.60 415.41,169.50 419.73,166.80 423.59,163.70 448.97,148.00 463.82,139.00 474.35,132.10 482.52,127.20 489.20,122.90 494.84,119.10 499.73,115.90 504.05,113.90 507.91,111.60 533.29,97.10 548.14,88.30 558.67,81.90 566.84,77.40 573.52,73.40 579.17,69.80 584.06,66.60 588.37,64.10 592.23,61.60 617.61,46.90 632.46,37.70 642.99,31.40 651.16,24.60 657.84,21.10 663.49,16.00 668.38,11.90 672.69,8.40 676.55,6.10" fill="none" stroke="#ff0000" stroke-width="1.9" stroke-linejoin="round"/>
<rect x="376.60" y="191.70" width="5.8" height="5.8" fill="#000"/>
<rect x="387.13" y="192.60" width="5.8" height="5.8" fill="#000"/>
<rect x="395.30" y="188.70" width="5.8" height="5.8" fill="#000"/>
<rect x="401.98" y="181.10" width="5.8" height="5.8" fill="#000"/>
<rect x="407.62" y="177.80" width="5.8" height="5.8" fill="#000"/>
<rect x="412.51" y="173.70" width="5.8" height="5.8" fill="#000"/>
<rect x="416.83" y="170.30" width="5.8" height="5.8" fill="#000"/>
<rect x="420.69" y="166.30" width="5.8" height="5.8" fill="#000"/>
<rect x="446.07" y="163.30" width="5.8" height="5.8" fill="#000"/>
<rect x="460.92" y="147.20" width="5.8" height="5.8" fill="#000"/>
<rect x="471.45" y="138.00" width="5.8" height="5.8" fill="#000"/>
<rect x="479.62" y="131.80" width="5.8" height="5.8" fill="#000"/>
<rect x="486.30" y="127.50" width="5.8" height="5.8" fill="#000"/>
<rect x="491.94" y="122.30" width="5.8" height="5.8" fill="#000"/>
<rect x="496.83" y="118.80" width="5.8" height="5.8" fill="#000"/>
<rect x="501.15" y="116.20" width="5.8" height="5.8" fill="#000"/>
<rect x="505.01" y="114.10" width="5.8" height="5.8" fill="#000"/>
<rect x="530.39" y="111.90" width="5.8" height="5.8" fill="#000"/>
<rect x="545.24" y="96.60" width="5.8" height="5.8" fill="#000"/>
<rect x="555.77" y="88.50" width="5.8" height="5.8" fill="#000"/>
<rect x="563.94" y="82.20" width="5.8" height="5.8" fill="#000"/>
<rect x="570.62" y="77.20" width="5.8" height="5.8" fill="#000"/>
<rect x="576.27" y="73.40" width="5.8" height="5.8" fill="#000"/>
<rect x="581.16" y="70.20" width="5.8" height="5.8" fill="#000"/>
<rect x="585.47" y="67.10" width="5.8" height="5.8" fill="#000"/>
<rect x="589.33" y="64.60" width="5.8" height="5.8" fill="#000"/>
<rect x="614.71" y="60.60" width="5.8" height="5.8" fill="#000"/>
<rect x="629.56" y="46.10" width="5.8" height="5.8" fill="#000"/>
<rect x="640.09" y="37.10" width="5.8" height="5.8" fill="#000"/>
<rect x="648.26" y="30.70" width="5.8" height="5.8" fill="#000"/>
<rect x="654.94" y="24.90" width="5.8" height="5.8" fill="#000"/>
<rect x="660.59" y="20.20" width="5.8" height="5.8" fill="#000"/>
<rect x="665.48" y="15.60" width="5.8" height="5.8" fill="#000"/>
<rect x="669.79" y="11.50" width="5.8" height="5.8" fill="#000"/>
<rect x="673.65" y="7.50" width="5.8" height="5.8" fill="#000"/>
<circle cx="379.50" cy="202.90" r="3.5" fill="#ff0000"/>
<circle cx="390.03" cy="191.60" r="3.5" fill="#ff0000"/>
<circle cx="398.20" cy="181.00" r="3.5" fill="#ff0000"/>
<circle cx="404.88" cy="176.30" r="3.5" fill="#ff0000"/>
<circle cx="410.52" cy="172.60" r="3.5" fill="#ff0000"/>
<circle cx="415.41" cy="169.50" r="3.5" fill="#ff0000"/>
<circle cx="419.73" cy="166.80" r="3.5" fill="#ff0000"/>
<circle cx="423.59" cy="163.70" r="3.5" fill="#ff0000"/>
<circle cx="448.97" cy="148.00" r="3.5" fill="#ff0000"/>
<circle cx="463.82" cy="139.00" r="3.5" fill="#ff0000"/>
<circle cx="474.35" cy="132.10" r="3.5" fill="#ff0000"/>
<circle cx="482.52" cy="127.20" r="3.5" fill="#ff0000"/>
<circle cx="489.20" cy="122.90" r="3.5" fill="#ff0000"/>
<circle cx="494.84" cy="119.10" r="3.5" fill="#ff0000"/>
<circle cx="499.73" cy="115.90" r="3.5" fill="#ff0000"/>
<circle cx="504.05" cy="113.90" r="3.5" fill="#ff0000"/>
<circle cx="507.91" cy="111.60" r="3.5" fill="#ff0000"/>
<circle cx="533.29" cy="97.10" r="3.5" fill="#ff0000"/>
<circle cx="548.14" cy="88.30" r="3.5" fill="#ff0000"/>
<circle cx="558.67" cy="81.90" r="3.5" fill="#ff0000"/>
<circle cx="566.84" cy="77.40" r="3.5" fill="#ff0000"/>
<circle cx="573.52" cy="73.40" r="3.5" fill="#ff0000"/>
<circle cx="579.17" cy="69.80" r="3.5" fill="#ff0000"/>
<circle cx="584.06" cy="66.60" r="3.5" fill="#ff0000"/>
<circle cx="588.37" cy="64.10" r="3.5" fill="#ff0000"/>
<circle cx="592.23" cy="61.60" r="3.5" fill="#ff0000"/>
<circle cx="617.61" cy="46.90" r="3.5" fill="#ff0000"/>
<circle cx="632.46" cy="37.70" r="3.5" fill="#ff0000"/>
<circle cx="642.99" cy="31.40" r="3.5" fill="#ff0000"/>
<circle cx="651.16" cy="24.60" r="3.5" fill="#ff0000"/>
<circle cx="657.84" cy="21.10" r="3.5" fill="#ff0000"/>
<circle cx="663.49" cy="16.00" r="3.5" fill="#ff0000"/>
<circle cx="668.38" cy="11.90" r="3.5" fill="#ff0000"/>
<circle cx="672.69" cy="8.40" r="3.5" fill="#ff0000"/>
<circle cx="676.55" cy="6.10" r="3.5" fill="#ff0000"/>
<path d="M378.2 200.0L678.2 16.6" stroke="#0000ff" stroke-width="2.0"/>
<path d="M378.2 195.6L678.2 6.6" stroke="#8b0000" stroke-width="2.1"/>
</g>
<path d="M379.3 19.7H408.8" stroke="#000" stroke-width="1.9"/>
<rect x="391.55" y="17.20" width="5.0" height="5.0" fill="#000"/>
<text x="412.5" y="23.30" font-family="Liberation Sans, sans-serif" font-weight="bold" font-size="11.4" letter-spacing="0.4" fill="#1a1a1a">Pure PbI<tspan font-size="7.5" dy="5.3">2</tspan></text>
<path d="M379.3 39.6H408.8" stroke="#ff0000" stroke-width="1.9"/>
<circle cx="394.05" cy="39.60" r="3.1" fill="#ff0000"/>
<text x="412.5" y="43.20" font-family="Liberation Sans, sans-serif" font-weight="bold" font-size="11.4" letter-spacing="0.4" fill="#1a1a1a">Au doped PbI<tspan font-size="7.5" dy="5.3">2</tspan></text>
<path d="M379.3 59.5H408.8" stroke="#0000ff" stroke-width="2.0"/>
<text x="412.5" y="63.10" font-family="Liberation Sans, sans-serif" font-weight="bold" font-size="11.4" letter-spacing="0.4" fill="#1a1a1a">linear fit for pure</text>
<path d="M379.3 75.4H408.8" stroke="#8b0000" stroke-width="2.0"/>
<text x="412.5" y="79.00" font-family="Liberation Sans, sans-serif" font-weight="bold" font-size="11.4" letter-spacing="0.4" fill="#1a1a1a">linear fit for doped</text>
<defs><clipPath id="cl"><rect x="41.2" y="6.8" width="292.3" height="217.5"/></clipPath><clipPath id="cr"><rect x="378.2" y="5.3" width="300.00000000000006" height="220.0"/></clipPath></defs>
</svg>
</body></html>
